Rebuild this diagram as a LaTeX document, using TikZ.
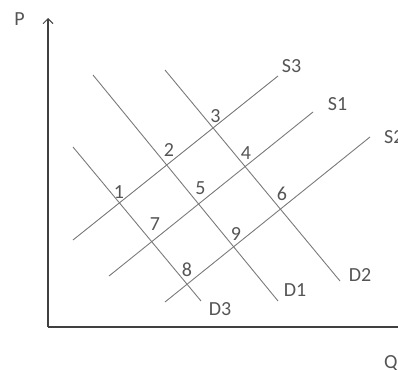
\documentclass[tikz,border=0pt]{standalone}
\usepackage{fontspec}
\setmainfont{Carlito}
\usetikzlibrary{arrows.meta}
\definecolor{txt}{HTML}{555555}
\definecolor{ln}{HTML}{7A7A7A}
\definecolor{ax}{HTML}{404040}
\tikzset{
  curve/.style={draw=ln, line width=0.9pt},
  axis/.style={draw=ax, line width=1.2pt},
  lbl/.style={text=txt, inner sep=0pt, font=\fontsize{20}{21}\selectfont},
}
\begin{document}
\begin{tikzpicture}[x=1pt,y=-1pt]
\useasboundingbox (0,0) rectangle (398,369);
% axes
\coordinate (O) at (48,327);
\coordinate (Ptop) at (48,18);
\coordinate (Qend) at (400,327);
\draw[axis, -{Straight Barb[length=5pt,width=10pt,line width=0.9pt]}] (O) -- (Ptop);
\draw[axis] (O) -- (Qend);
\node[lbl] (P) at (19.5,19.5) {P};
\node[lbl, anchor=west] (Q) at (384,363) {Q};
% demand curves
\coordinate (d3a) at (73,147);  \coordinate (d3b) at (201,301);
\coordinate (d1a) at (93,75);   \coordinate (d1b) at (278,301);
\coordinate (d2a) at (165,70);  \coordinate (d2b) at (340,281);
\draw[curve] (d3a) -- (d3b);
\draw[curve] (d1a) -- (d1b);
\draw[curve] (d2a) -- (d2b);
% supply curves
\coordinate (s3a) at (73,240);  \coordinate (s3b) at (278,76);
\coordinate (s1a) at (109,276); \coordinate (s1b) at (313,112);
\coordinate (s2a) at (165,302); \coordinate (s2b) at (370,137);
\draw[curve] (s3a) -- (s3b);
\draw[curve] (s1a) -- (s1b);
\draw[curve] (s2a) -- (s2b);
% curve labels
\node[lbl] (S3) at (291.5,66.5) {S3};
\node[lbl] (S1) at (337.5,104.5) {S1};
\node[lbl, anchor=west] (S2) at (384,137) {S2};
\node[lbl] (D2) at (360,275.5) {D2};
\node[lbl] (D1) at (295,290) {D1};
\node[lbl] (D3) at (220,309) {D3};
% intersection labels
\node[lbl] (n1) at (119,192.5) {1};
\node[lbl] (n2) at (169,150.5) {2};
\node[lbl] (n3) at (215.5,116.5) {3};
\node[lbl] (n4) at (246,153) {4};
\node[lbl] (n5) at (200.5,188) {5};
\node[lbl] (n6) at (282,194) {6};
\node[lbl] (n7) at (155,224) {7};
\node[lbl] (n8) at (187,269.5) {8};
\node[lbl] (n9) at (236,234) {9};
\end{tikzpicture}
\end{document}
